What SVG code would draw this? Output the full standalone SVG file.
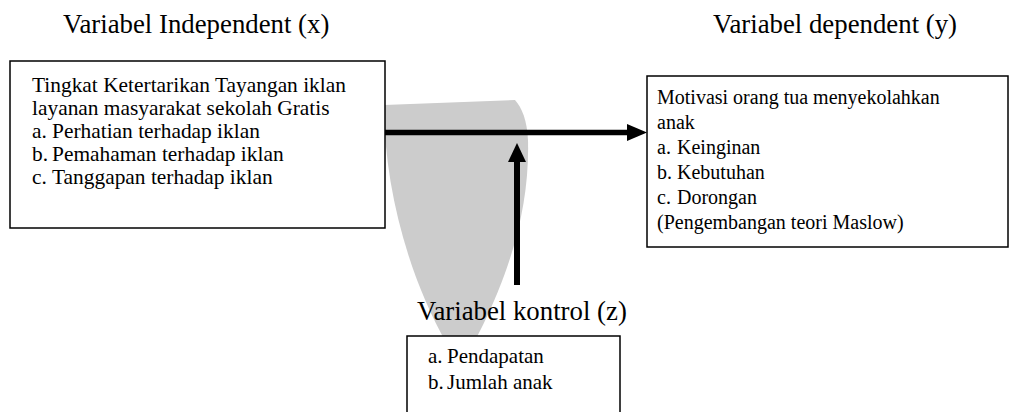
<svg xmlns="http://www.w3.org/2000/svg" width="1011" height="412" viewBox="0 0 1011 412">
  <style>
    .t { font-family: "Liberation Serif", "Times New Roman", serif; fill: #000; }
    .title { font-size: 26.8px; }
    .lb { font-size: 21.4px; }
    .rb { font-size: 20px; }
    .zb { font-size: 21px; }
    .box { fill: #fff; stroke: #000; stroke-width: 1.5; }
    .wm { fill: #cccccc; }
  </style>
  <rect x="0" y="0" width="1011" height="412" fill="#fff"/>
  <g id="watermark">
    <path class="wm" d="M 384 105 C 384 190 410 280 448 346 L 472 346 C 505 285 530 215 528 140 C 527 120 522 108 515 100 Z"/>
  </g>
  <g id="connectors">
    <line x1="385" y1="132.5" x2="630" y2="132.5" stroke="#000" stroke-width="5.5"/>
    <polygon points="627,124 647,132.5 627,141" fill="#000"/>
    <line x1="517" y1="285" x2="517" y2="160" stroke="#000" stroke-width="6"/>
    <polygon points="508,162 517,143 526,162" fill="#000"/>
  </g>
  <g id="node-x">
    <text class="t title" x="63" y="33">Variabel Independent (x)</text>
    <rect class="box" x="10" y="61" width="375" height="167"/>
    <text class="t lb" x="32" y="92">Tingkat Ketertarikan Tayangan iklan</text>
    <text class="t lb" x="32" y="115">layanan masyarakat sekolah Gratis</text>
    <text class="t lb" y="138"><tspan x="32">a.</tspan><tspan x="52">Perhatian terhadap iklan</tspan></text>
    <text class="t lb" y="161"><tspan x="32">b.</tspan><tspan x="52">Pemahaman terhadap iklan</tspan></text>
    <text class="t lb" y="184"><tspan x="32">c.</tspan><tspan x="52">Tanggapan terhadap iklan</tspan></text>
  </g>
  <g id="node-y">
    <text class="t title" x="713" y="33">Variabel dependent (y)</text>
    <rect class="box" x="647" y="76" width="361" height="171"/>
    <text class="t rb" x="657" y="104">Motivasi orang tua menyekolahkan</text>
    <text class="t rb" x="657" y="129">anak</text>
    <text class="t rb" y="154"><tspan x="657">a.</tspan><tspan x="677">Keinginan</tspan></text>
    <text class="t rb" y="179"><tspan x="657">b.</tspan><tspan x="677">Kebutuhan</tspan></text>
    <text class="t rb" y="204"><tspan x="657">c.</tspan><tspan x="677">Dorongan</tspan></text>
    <text class="t rb" x="657" y="229">(Pengembangan teori Maslow)</text>
  </g>
  <g id="node-z">
    <text class="t title" x="417" y="320">Variabel kontrol (z)</text>
    <rect class="box" x="407" y="336" width="213" height="90"/>
    <text class="t zb" y="363"><tspan x="428">a.</tspan><tspan x="447">Pendapatan</tspan></text>
    <text class="t zb" y="389"><tspan x="428">b.</tspan><tspan x="447">Jumlah anak</tspan></text>
  </g>
</svg>
